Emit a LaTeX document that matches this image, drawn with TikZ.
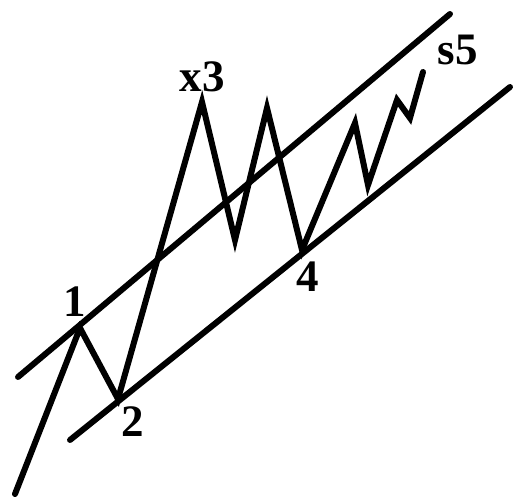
\documentclass[tikz,border=0pt]{standalone}
\usepackage{fontspec}
\setmainfont{Liberation Serif}
\begin{document}
\begin{tikzpicture}[x=1pt, y=-1pt, line width=6pt, line cap=round, line join=miter,
  wavelabel/.style={font=\fontsize{45}{45}\selectfont\bfseries, inner sep=0pt}]
  \useasboundingbox (0,0) rectangle (515,497);
  % Channel lines (upper through 1, lower through 2 and 4)
  \coordinate (up-a) at (18,377);
  \coordinate (up-b) at (450,14);
  \coordinate (lo-a) at (70,440);
  \coordinate (lo-b) at (510,87);
  \draw (up-a) -- (up-b);
  \draw (lo-a) -- (lo-b);
  % Wave turning points
  \coordinate (w0) at (15,494);
  \coordinate (w1) at (80,328);
  \coordinate (w2) at (118,399);
  \coordinate (w3) at (202,102);
  \coordinate (wa) at (235,240);
  \coordinate (wb) at (267,108);
  \coordinate (w4) at (302,250);
  \coordinate (wc) at (355,123);
  \coordinate (wd) at (368,185);
  \coordinate (we) at (397,100);
  \coordinate (wf) at (410,118);
  \coordinate (w5) at (423,72);
  \draw (w0) -- (w1) -- (w2) -- (w3) -- (wa) -- (wb) -- (w4)
    -- (wc) -- (wd) -- (we) -- (wf) -- (w5);
  % Labels
  \node[wavelabel] (lab1) at (75,302) {1};
  \node[wavelabel] (lab2) at (133,422) {2};
  \node[wavelabel] (lab3) at (202,77) {x3};
  \node[wavelabel] (lab4) at (308,277) {4};
  \node[wavelabel] (lab5) at (458,50) {s5};
\end{tikzpicture}
\end{document}
